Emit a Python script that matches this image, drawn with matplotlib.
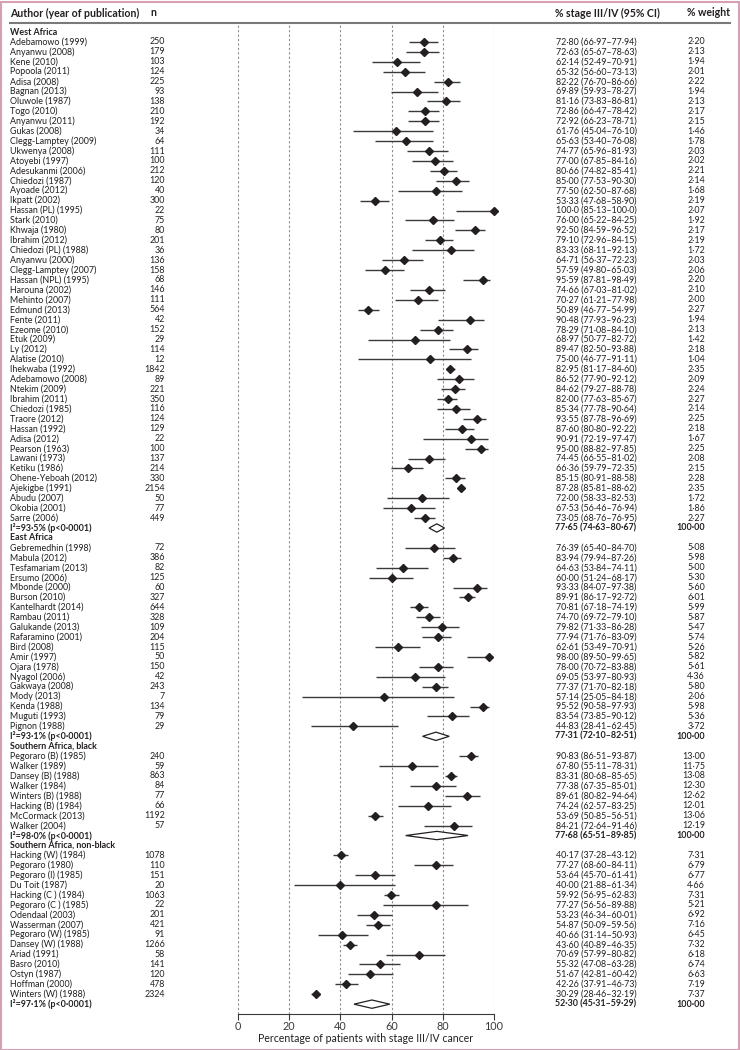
from matplotlib import pyplot as plt
from matplotlib.lines import Line2D
from matplotlib.patches import Polygon, Rectangle
import matplotlib.transforms as mtransforms

plt.rcParams['font.family']=['Lato','DejaVu Sans']

#   West Africa
wa_names=['Adebamowo (1999)','Anyanwu (2008)','Kene (2010)','Popoola (2011)','Adisa (2008)',
          'Bagnan (2013)','Oluwole (1987)','Togo (2010)','Anyanwu (2011)','Gukas (2008)',
          'Clegg-Lamptey (2009)','Ukwenya (2008)','Atoyebi (1997)','Adesukanmi (2006)',
          'Chiedozi (1987)','Ayoade (2012)','Ikpatt (2002)','Hassan (PL) (1995)','Stark (2010)',
          'Khwaja (1980)','Ibrahim (2012)','Chiedozi (PL) (1988)','Anyanwu (2000)',
          'Clegg-Lamptey (2007)','Hassan (NPL) (1995)','Harouna (2002)','Mehinto (2007)',
          'Edmund (2013)','Fente (2011)','Ezeome (2010)','Etuk (2009)','Ly (2012)',
          'Alatise (2010)','Ihekwaba (1992)','Adebamowo (2008)','Ntekim (2009)','Ibrahim (2011)',
          'Chiedozi (1985)','Traore (2012)','Hassan (1992)','Adisa (2012)','Pearson (1963)',
          'Lawani (1973)','Ketiku (1986)','Ohene-Yeboah (2012)','Ajekigbe (1991)',
          'Abudu (2007)','Okobia (2001)','Sarre (2006)']
wa_n=[250,179,103,124,225,93,138,210,192,34,64,111,100,212,120,40,300,22,75,80,201,36,136,
      158,68,146,111,564,42,152,29,114,12,1842,89,221,350,116,124,129,22,100,137,214,330,
      2154,50,77,449]
wa_est=[72.80,72.63,62.14,65.32,82.22,69.89,81.16,72.86,72.92,61.76,65.63,74.77,77.00,80.66,
        85.00,77.50,53.33,100.0,76.00,92.50,79.10,83.33,64.71,57.59,95.59,74.66,70.27,50.89,
        90.48,78.29,68.97,89.47,75.00,82.95,86.52,84.62,82.00,85.34,93.55,87.60,90.91,95.00,
        74.45,66.36,85.15,87.28,72.00,67.53,73.05]
wa_lo=[66.97,65.67,52.49,56.60,76.70,59.93,73.83,66.47,66.23,45.04,53.40,65.96,67.85,74.82,
       77.53,62.50,47.68,85.13,65.22,84.59,72.96,68.11,56.37,49.80,87.81,67.03,61.21,46.77,
       77.93,71.08,50.77,82.50,46.77,81.17,77.90,79.27,77.63,77.78,87.78,80.80,72.19,88.82,
       66.55,59.79,80.91,85.81,58.33,56.46,68.76]
wa_hi=[77.94,78.63,70.91,73.13,86.66,78.27,86.81,78.42,78.71,76.10,76.08,81.93,84.16,85.41,
       90.30,87.68,58.90,100.0,84.25,96.52,84.15,92.13,72.23,65.03,98.49,81.02,77.98,54.99,
       96.23,84.10,82.72,93.88,91.11,84.60,92.12,88.78,85.67,90.64,96.69,92.22,97.47,97.85,
       81.02,72.35,88.58,88.62,82.53,76.94,76.95]
wa_w=[2.20,2.13,1.94,2.01,2.22,1.94,2.13,2.17,2.15,1.46,1.78,2.03,2.02,2.21,2.14,1.68,2.19,
      2.07,1.92,2.17,2.19,1.72,2.03,2.06,2.20,2.10,2.00,2.27,1.94,2.13,1.42,2.18,1.04,2.35,
      2.09,2.24,2.27,2.14,2.25,2.18,1.67,2.25,2.08,2.15,2.28,2.35,1.72,1.86,2.27]
wa_summary=[77.65,74.63,80.67]
wa_i2='I²=93·5% (p<0·0001)'

#   East Africa
ea_names=['Gebremedhin (1998)','Mabula (2012)','Tesfamariam (2013)','Ersumo (2006)',
          'Mbonde (2000)','Burson (2010)','Kantelhardt (2014)','Rambau (2011)',
          'Galukande (2013)','Rafaramino (2001)','Bird (2008)','Amir (1997)','Ojara (1978)',
          'Nyagol (2006)','Gakwaya (2008)','Mody (2013)','Kenda (1988)','Muguti (1993)',
          'Pignon (1988)']
ea_n=[72,386,82,125,60,327,644,328,109,204,115,50,150,42,243,7,134,79,29]
ea_est=[76.39,83.94,64.63,60.00,93.33,89.91,70.81,74.70,79.82,77.94,62.61,98.00,78.00,69.05,
        77.37,57.14,95.52,83.54,44.83]
ea_lo=[65.40,79.94,53.84,51.24,84.07,86.17,67.18,69.72,71.33,71.76,53.49,89.50,70.72,53.97,
       71.70,25.05,90.58,73.85,28.41]
ea_hi=[84.70,87.26,74.11,68.17,97.38,92.72,74.19,79.10,86.28,83.09,70.91,99.65,83.88,80.93,
       82.18,84.18,97.93,90.12,62.45]
ea_w=[5.08,5.98,5.00,5.30,5.60,6.01,5.99,5.87,5.47,5.74,5.26,5.82,5.61,4.36,5.80,2.06,5.98,
      5.36,3.72]
ea_summary=[77.31,72.10,82.51]
ea_i2='I²=93·1% (p<0·0001)'

#   Southern Africa, black
sb_names=['Pegoraro (B) (1985)','Walker (1989)','Dansey (B) (1988)','Walker (1984)',
          'Winters (B) (1988)','Hacking (B) (1984)','McCormack (2013)','Walker (2004)']
sb_n=[240,59,863,84,77,66,1192,57]
sb_est=[90.83,67.80,83.31,77.38,89.61,74.24,53.69,84.21]
sb_lo=[86.51,55.11,80.68,67.35,80.82,62.57,50.85,72.64]
sb_hi=[93.87,78.31,85.65,85.01,94.64,83.25,56.51,91.46]
sb_w=[13.00,11.75,13.08,12.30,12.62,12.01,13.06,12.19]
sb_summary=[77.68,65.51,89.85]
sb_i2='I²=98·0% (p<0·0001)'

#   Southern Africa, non-black
snb_names=['Hacking (W) (1984)','Pegoraro (1980)','Pegoraro (I) (1985)','Du Toit (1987)',
           'Hacking (C ) (1984)','Pegoraro (C ) (1985)','Odendaal (2003)','Wasserman (2007)',
           'Pegoraro (W) (1985)','Dansey (W) (1988)','Ariad (1991)','Basro (2010)',
           'Ostyn (1987)','Hoffman (2000)','Winters (W) (1988)']
snb_n=[1078,110,151,20,1063,22,201,421,91,1266,58,141,120,478,2324]
snb_est=[40.17,77.27,53.64,40.00,59.92,77.27,53.23,54.87,40.66,43.60,70.69,55.32,51.67,
         42.26,30.29]
snb_lo=[37.28,68.60,45.70,21.88,56.95,56.56,46.34,50.09,31.14,40.89,57.99,47.08,42.81,
        37.91,28.46]
snb_hi=[43.12,84.11,61.41,61.34,62.83,89.88,60.01,59.56,50.93,46.35,80.82,63.28,60.42,
        46.73,32.19]
snb_w=[7.31,6.79,6.77,4.66,7.31,5.21,6.92,7.16,6.45,7.32,6.18,6.74,6.63,7.19,7.37]
snb_summary=[52.30,45.31,59.29]
snb_i2='I²=97·1% (p<0·0001)'

groups=[('West Africa',wa_names,wa_n,wa_est,wa_lo,wa_hi,wa_w,wa_summary,wa_i2),
        ('East Africa',ea_names,ea_n,ea_est,ea_lo,ea_hi,ea_w,ea_summary,ea_i2),
        ('Southern Africa, black',sb_names,sb_n,sb_est,sb_lo,sb_hi,sb_w,sb_summary,sb_i2),
        ('Southern Africa, non-black',snb_names,snb_n,snb_est,snb_lo,snb_hi,snb_w,snb_summary,snb_i2)]

xticks=[0,20,40,60,80,100]


def fmt(v):
    #   middle dot as decimal point, 100 written with one decimal
    s='%.1f'%v if v>=100 else '%.2f'%v
    return s.replace('.','·')


W,H=740,1050
fig=plt.figure(figsize=(W/100,H/100),dpi=100)
ROW=9.92
Y0=32
ax=fig.add_axes([238/W,1-1014/H,256/W,991/H])
ax.set_xlim(0,100)
ax.set_ylim((1014-Y0)/ROW,(23-Y0)/ROW)

tr=mtransforms.blended_transform_factory(fig.transFigure,ax.transData)
FS=6.4
INK='#231f20'

row=0
for name,names,ns,est,lo,hi,w,summ,i2 in groups:
    ax.text(10/W,row,name,transform=tr,fontsize=FS,fontweight='bold',va='center',color=INK)
    row+=1
    for i in range(len(names)):
        ax.plot([lo[i],hi[i]],[row,row],color='#3a3a3a',lw=1.0,solid_capstyle='butt',clip_on=False)
        ax.plot(est[i],row,'D',color=INK,ms=4.5,clip_on=False)
        ax.text(10/W,row,names[i],transform=tr,fontsize=FS,va='center',color=INK)
        ax.text(165/W,row,str(ns[i]),transform=tr,fontsize=FS,va='center',ha='right',color=INK)
        ax.text(596/W,row,'%s (%s–%s)'%(fmt(est[i]),fmt(lo[i]),fmt(hi[i])),transform=tr,
                fontsize=FS,va='center',ha='center',color=INK)
        ax.text(705/W,row,fmt(w[i]),transform=tr,fontsize=FS,va='center',ha='right',color=INK)
        row+=1
    e,l,h=summ
    ax.add_patch(Polygon([[l,row],[e,row-0.42],[h,row],[e,row+0.42]],closed=True,
                         facecolor='white',edgecolor=INK,lw=0.9))
    ax.text(10/W,row,i2,transform=tr,fontsize=FS,fontweight='bold',va='center',color=INK)
    ax.text(596/W,row,'%s (%s–%s)'%(fmt(e),fmt(l),fmt(h)),transform=tr,fontsize=FS,
            fontweight='bold',va='center',ha='center',color=INK)
    ax.text(705/W,row,'100·00',transform=tr,fontsize=FS,fontweight='bold',va='center',
            ha='right',color=INK)
    row+=1

for x in xticks:
    ax.axvline(x,color='#8c8c8c',lw=0.8,ls=(0,(2,2)),zorder=0)

ax.spines['top'].set_visible(False)
ax.spines['left'].set_visible(False)
ax.spines['right'].set_visible(False)
ax.spines['bottom'].set_color('#3a3a3a')
ax.set_yticks([])
ax.set_xticks(xticks)
ax.set_xticklabels([str(x) for x in xticks])
ax.tick_params(axis='x',labelsize=7.8,colors='#3a3a3a',length=4,width=0.8,pad=1)
ax.set_xlabel('Percentage of patients with stage III/IV cancer',fontsize=7.6,color=INK,labelpad=1)

#   Header
hy=1-13/H
fig.text(10/W,hy,'Author (year of publication)',fontsize=7.6,fontweight='bold',va='center',color=INK)
fig.text(150/W,hy,'n',fontsize=7.6,fontweight='bold',va='center',color=INK)
fig.text(555/W,hy,'% stage III/IV (95% CI)',fontsize=7.6,fontweight='bold',va='center',color=INK)
fig.text(730/W,hy,'% weight',fontsize=7.6,fontweight='bold',va='center',ha='right',color=INK)
fig.add_artist(Line2D([10/W,730/W],[1-23/H,1-23/H],color='#7a7a7a',lw=1.5))

#   Frame around the figure
fig.add_artist(Rectangle((0.5/W,0.5/H),1-2/W,1-2/H,transform=fig.transFigure,
                         fill=False,edgecolor='#d6a0b4',lw=1.5))

fig.savefig('out.png',dpi=100)
